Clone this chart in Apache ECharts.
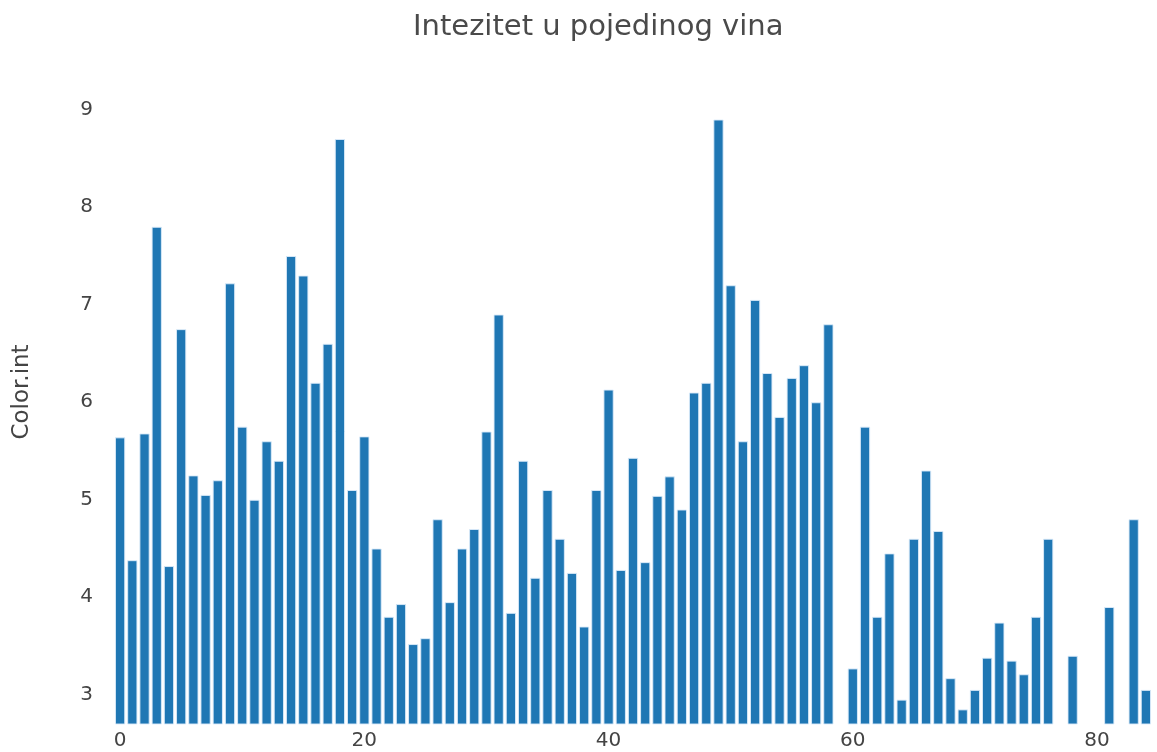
<!DOCTYPE html>
<html>
<head>
<meta charset="utf-8">
<script src="https://cdn.jsdelivr.net/npm/echarts@6/dist/echarts.min.js"></script>
<style>html,body{margin:0;padding:0;background:#fff}#c{width:1157px;height:752px}</style>
</head>
<body>
<div id="c"></div>
<script>
const titleText = 'Intezitet u pojedinog vina';
const yName = 'Color.int';
const values = [
  5.64, 4.38, 5.68, 7.80, 4.32, 6.75, 5.25, 5.05, 5.20, 7.22,
  5.75, 5.00, 5.60, 5.40, 7.50, 7.30, 6.20, 6.60, 8.70, 5.10,
  5.65, 4.50, 3.80, 3.93, 3.52, 3.58, 4.80, 3.95, 4.50, 4.70,
  5.70, 6.90, 3.84, 5.40, 4.20, 5.10, 4.60, 4.25, 3.70, 5.10,
  6.13, 4.28, 5.43, 4.36, 5.04, 5.24, 4.90, 6.10, 6.20, 8.90,
  7.20, 5.60, 7.05, 6.30, 5.85, 6.25, 6.38, 6.00, 6.80, 1.95,
  3.27, 5.75, 3.80, 4.45, 2.95, 4.60, 5.30, 4.68, 3.17, 2.85,
  3.05, 3.38, 3.74, 3.35, 3.21, 3.80, 4.60, 2.65, 3.40, 2.57,
  2.50, 3.90, 2.20, 4.80, 3.05
];
const categories = values.map((_, i) => String(i));
const yMin = 2.7, yMax = 9.1;
const FONT = 'DejaVu Sans';

const chart = echarts.init(document.getElementById('c'), null, {renderer: 'canvas'});
chart.setOption({
  backgroundColor: '#fff',
  animation: false,
  title: {
    text: titleText, left: 408, top: 8,
    textStyle: {fontFamily: FONT, fontSize: 29, fontWeight: 'normal', color: '#4a4a4a'}
  },
  grid: {left: 114, right: 5, top: 100, bottom: 28, containLabel: false},
  xAxis: {
    type: 'category', data: categories,
    axisLine: {show: false}, axisTick: {show: false},
    axisLabel: {
      interval: (i) => i % 20 === 0,
      color: '#444', fontFamily: FONT, fontSize: 20, margin: 7
    },
    splitLine: {show: false}
  },
  yAxis: {
    type: 'value', min: yMin, max: yMax,
    name: yName, nameLocation: 'middle', nameGap: 80, nameRotate: 90,
    nameTextStyle: {fontFamily: FONT, fontSize: 23, color: '#444', padding: [0, 0, 0, 40]},
    axisLine: {show: false}, axisTick: {show: false}, splitLine: {show: false},
    axisLabel: {
      color: '#444', fontFamily: FONT, fontSize: 20, margin: 21, padding: [5, 0, 0, 0],
      formatter: (v) => (Math.abs(v - Math.round(v)) < 1e-9 ? String(Math.round(v)) : '')
    }
  },
  series: [{
    type: 'bar', data: values, clip: true,
    barCategoryGap: '16%',
    itemStyle: {color: '#1f77b4', borderColor: 'rgba(220,235,250,0.9)', borderWidth: 1}
  }]
});
</script>
</body>
</html>
